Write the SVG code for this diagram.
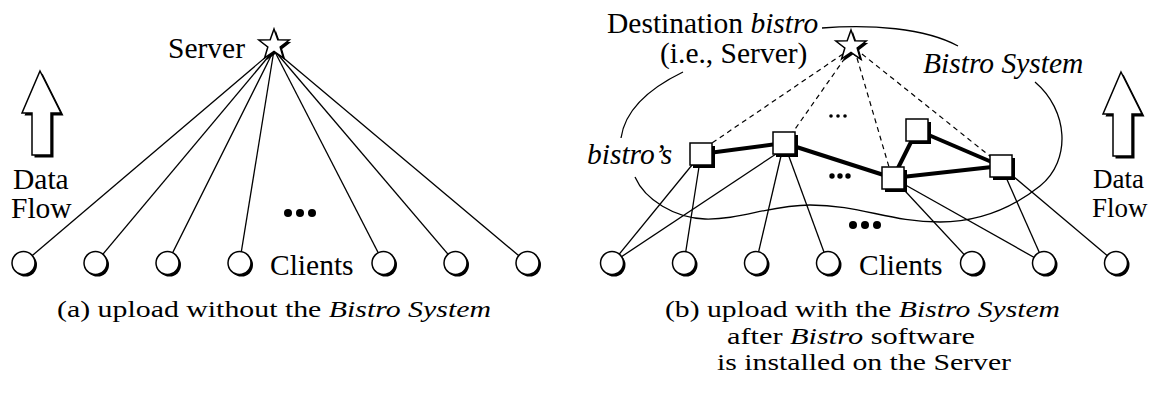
<svg xmlns="http://www.w3.org/2000/svg" width="1151" height="395" viewBox="0 0 1151 395">
<style>
  text { font-family: "Liberation Serif", "Times New Roman", serif; font-size: 29.5px; fill: #000; }
  .cap { font-size: 23.5px; }
  .df { font-size: 27px; }
  .it { font-style: italic; }
  .thin { stroke: #000; stroke-width: 1.3; fill: none; }
  .thick { stroke: #000; stroke-width: 4; fill: none; stroke-linecap: butt; }
  .dash { stroke: #000; stroke-width: 1.2; stroke-dasharray: 5 4; fill: none; }
  .node { fill: #fff; stroke: #000; stroke-width: 1.5; }
  .shadow { fill: #000; stroke: none; }
</style>
<defs>
  <path id="starp" d="M0,-16 L3.82,-5.26 L15.22,-4.94 L6.18,2.01 L9.4,12.94 L0,6.5 L-9.4,12.94 L-6.18,2.01 L-15.22,-4.94 L-3.82,-5.26 Z"/>
  <circle id="circ" r="11.5"/>
  <rect id="sq" width="22" height="22"/>
  <polygon id="arrp" points="0,0 21,42 11,42 11,84 -8,84 -8,42 -18,42"/>
</defs>

<!-- connectors -->
<g id="connectors">
  <!-- left panel: server to clients -->
  <g class="thin">
    <line x1="274" y1="50" x2="23.5" y2="263"/>
    <line x1="274" y1="50" x2="95.5" y2="263"/>
    <line x1="274" y1="50" x2="167.5" y2="263"/>
    <line x1="274" y1="50" x2="239.5" y2="263"/>
    <line x1="274" y1="50" x2="383.5" y2="263"/>
    <line x1="274" y1="50" x2="455.5" y2="263"/>
    <line x1="274" y1="50" x2="527.5" y2="263"/>
  </g>
  <!-- right panel: dashed to destination -->
  <g class="dash">
    <line x1="843" y1="54" x2="712" y2="143"/>
    <line x1="845" y1="58" x2="793" y2="132"/>
    <line x1="857" y1="58" x2="889" y2="167"/>
    <line x1="862" y1="54" x2="991" y2="157"/>
  </g>
  <!-- bistro links -->
  <g class="thick">
    <line x1="701" y1="154" x2="784" y2="143"/>
    <line x1="784" y1="143" x2="893" y2="178"/>
    <line x1="893" y1="178" x2="917" y2="130"/>
    <line x1="917" y1="130" x2="1001" y2="166"/>
    <line x1="893" y1="178" x2="1001" y2="166"/>
  </g>
  <!-- bistros to clients -->
  <g class="thin">
    <line x1="701" y1="154" x2="612" y2="263"/>
    <line x1="701" y1="154" x2="684" y2="263"/>
    <line x1="776" y1="154" x2="612" y2="263"/>
    <line x1="784" y1="143" x2="756" y2="263"/>
    <line x1="784" y1="143" x2="828" y2="263"/>
    <line x1="893" y1="178" x2="972" y2="263"/>
    <line x1="893" y1="178" x2="1044" y2="263"/>
    <line x1="1001" y1="166" x2="1044" y2="263"/>
    <line x1="1001" y1="166" x2="1116" y2="263"/>
  </g>
  <!-- annotation curves -->
  <path class="thin" d="M822,28 C870,24 925,28 958,46"/>
  <path class="thin" d="M683,72 C650,88 625,110 621,138"/>
  <path class="thin" d="M1035,82 C1068,110 1072,160 1040,186 C1010,210 975,222 940,222 C890,222 860,205 810,205 C770,205 740,220 705,219 C675,218 645,200 635,177"/>
</g>

<!-- left panel -->
<g id="server-a">
  <use href="#starp" x="276" y="47" class="shadow"/>
  <use href="#starp" x="274" y="45" class="node"/>
  <text x="168" y="58">Server</text>
</g>
<g id="flow-a">
  <use href="#arrp" x="42.5" y="73.5" class="shadow"/>
  <use href="#arrp" x="40" y="71" class="node"/>
  <text x="13" y="189">Data</text>
  <text x="11" y="218">Flow</text>
</g>
<g id="clients-a">
  <g id="ca1"><use href="#circ" x="25.5" y="265" class="shadow"/><use href="#circ" x="23.5" y="263" class="node"/></g>
  <g id="ca2"><use href="#circ" x="97.5" y="265" class="shadow"/><use href="#circ" x="95.5" y="263" class="node"/></g>
  <g id="ca3"><use href="#circ" x="169.5" y="265" class="shadow"/><use href="#circ" x="167.5" y="263" class="node"/></g>
  <g id="ca4"><use href="#circ" x="241.5" y="265" class="shadow"/><use href="#circ" x="239.5" y="263" class="node"/></g>
  <g id="ca5"><use href="#circ" x="385.5" y="265" class="shadow"/><use href="#circ" x="383.5" y="263" class="node"/></g>
  <g id="ca6"><use href="#circ" x="457.5" y="265" class="shadow"/><use href="#circ" x="455.5" y="263" class="node"/></g>
  <g id="ca7"><use href="#circ" x="529.5" y="265" class="shadow"/><use href="#circ" x="527.5" y="263" class="node"/></g>
  <text x="270" y="275">Clients</text>
  <g id="dots-a"><circle cx="288" cy="213" r="4"/><circle cx="300" cy="213" r="4"/><circle cx="312" cy="213" r="4"/></g>
</g>
<g id="caption-a">
  <text class="cap" x="57" y="317" textLength="434" lengthAdjust="spacingAndGlyphs">(a) upload without the <tspan class="it">Bistro System</tspan></text>
</g>

<!-- right panel -->
<g id="server-b">
  <use href="#starp" x="853" y="48" class="shadow"/>
  <use href="#starp" x="851" y="46" class="node"/>
  <text x="607" y="33">Destination <tspan class="it">bistro</tspan></text>
  <text x="660" y="63">(i.e., Server)</text>
</g>
<g id="bistro-label"><text class="it" x="587" y="164">bistro’s</text></g>
<g id="system-label"><text class="it" x="923" y="73">Bistro System</text></g>
<g id="bistroA"><use href="#sq" x="693" y="146" class="shadow"/><use href="#sq" x="690" y="143" class="node"/></g>
<g id="bistroB"><use href="#sq" x="776" y="135" class="shadow"/><use href="#sq" x="773" y="132" class="node"/></g>
<g id="bistroC"><use href="#sq" x="885" y="170" class="shadow"/><use href="#sq" x="882" y="167" class="node"/></g>
<g id="bistroD"><use href="#sq" x="909" y="122" class="shadow"/><use href="#sq" x="906" y="119" class="node"/></g>
<g id="bistroE"><use href="#sq" x="993" y="158" class="shadow"/><use href="#sq" x="990" y="155" class="node"/></g>
<g id="dots-b">
  <circle cx="831" cy="116" r="1.8"/><circle cx="838" cy="116" r="1.8"/><circle cx="845" cy="116" r="1.8"/>
  <circle cx="832" cy="176" r="2.7"/><circle cx="840" cy="176" r="2.7"/><circle cx="848" cy="176" r="2.7"/>
  <circle cx="853" cy="225" r="4"/><circle cx="865" cy="225" r="4"/><circle cx="877" cy="225" r="4"/>
</g>
<g id="clients-b">
  <g id="cb1"><use href="#circ" x="614" y="265" class="shadow"/><use href="#circ" x="612" y="263" class="node"/></g>
  <g id="cb2"><use href="#circ" x="686" y="265" class="shadow"/><use href="#circ" x="684" y="263" class="node"/></g>
  <g id="cb3"><use href="#circ" x="758" y="265" class="shadow"/><use href="#circ" x="756" y="263" class="node"/></g>
  <g id="cb4"><use href="#circ" x="830" y="265" class="shadow"/><use href="#circ" x="828" y="263" class="node"/></g>
  <g id="cb5"><use href="#circ" x="974" y="265" class="shadow"/><use href="#circ" x="972" y="263" class="node"/></g>
  <g id="cb6"><use href="#circ" x="1046" y="265" class="shadow"/><use href="#circ" x="1044" y="263" class="node"/></g>
  <g id="cb7"><use href="#circ" x="1118" y="265" class="shadow"/><use href="#circ" x="1116" y="263" class="node"/></g>
  <text x="859" y="275">Clients</text>
</g>
<g id="flow-b">
  <use href="#arrp" x="1123.5" y="74.5" class="shadow"/>
  <use href="#arrp" x="1121" y="72" class="node"/>
  <text class="df" x="1093" y="188">Data</text>
  <text class="df" x="1092" y="217">Flow</text>
</g>
<g id="caption-b">
  <text class="cap" x="665" y="317" textLength="395" lengthAdjust="spacingAndGlyphs">(b) upload with the <tspan class="it">Bistro System</tspan></text>
  <text class="cap" x="727" y="343.5" textLength="248" lengthAdjust="spacingAndGlyphs">after <tspan class="it">Bistro</tspan> software</text>
  <text class="cap" x="717" y="370" textLength="294" lengthAdjust="spacingAndGlyphs">is installed on the Server</text>
</g>
</svg>
